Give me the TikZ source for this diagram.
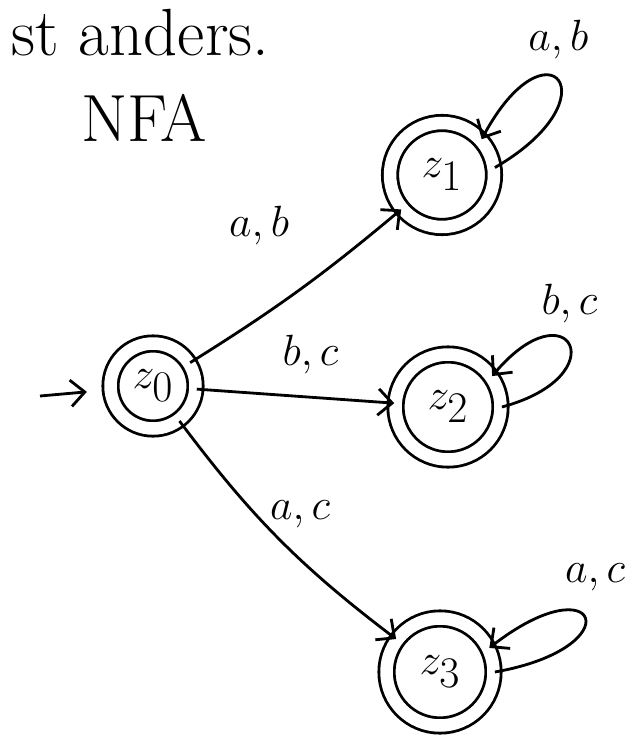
\documentclass[tikz,border=0pt]{standalone}
\usetikzlibrary{arrows.meta, positioning}

\begin{document}
\begin{tikzpicture}[x=0.02cm, y=-0.02cm, line width=1.6pt,
  every node/.style={font=\fontsize{28}{32}\selectfont},
  zstate/.style={circle, draw, minimum size=#1, inner sep=0pt, double, double distance=0.25cm,
    font=\fontsize{34}{38}\selectfont},
  arr/.style={-{Straight Barb[length=8pt, width=15pt]}},
  big/.style={font=\fontsize{38}{42}\selectfont}]
\useasboundingbox (0,0) rectangle (637,736);

\node[big, anchor=base west] (title) at (4,56) {st anders.};
\node[big, anchor=base west] (kind) at (74,142) {NFA};

\node[zstate=1.7cm] (z0) at (153,386) {$z_0$};
\node[zstate=2.08cm] (z1) at (442,175) {$z_1$};
\node[zstate=2.1cm] (z2) at (448,407) {$z_2$};
\node[zstate=2.14cm] (z3) at (440,672) {$z_3$};

\coordinate (start) at (40,396);
\draw[arr, shorten >=0.45cm] (start) -- (z0);

\draw[arr] (z0) to[bend right=4] node[pos=0.45, above=0.9cm, xshift=-0.6cm] (l1) {$a,b$} (z1);
\draw[arr] (z0) -- node[midway, above=0.3cm, xshift=0.3cm] (l2) {$b,c$} (z2);
\draw[arr] (z0) to[bend right=8] node[pos=0.38, right=0.15cm] (l3) {$a,c$} (z3);

% Schleifen
\draw[arr] (z1.8) .. controls +(30:2.8cm) and +(62:2.8cm) .. node[pos=0.5, above=0.3cm] (ll1) {$a,b$} (z1.42);
\draw[arr] (z2.0) .. controls +(15:2.4cm) and +(50:2.4cm) .. node[pos=0.5, above=0.3cm] (ll2) {$b,c$} (z2.35);
\draw[arr] (z3.0) .. controls +(10:2.8cm) and +(38:2.8cm) .. node[pos=0.5, above=0.4cm, xshift=0.2cm] (ll3) {$a,c$} (z3.26);
\end{tikzpicture}
\end{document}
